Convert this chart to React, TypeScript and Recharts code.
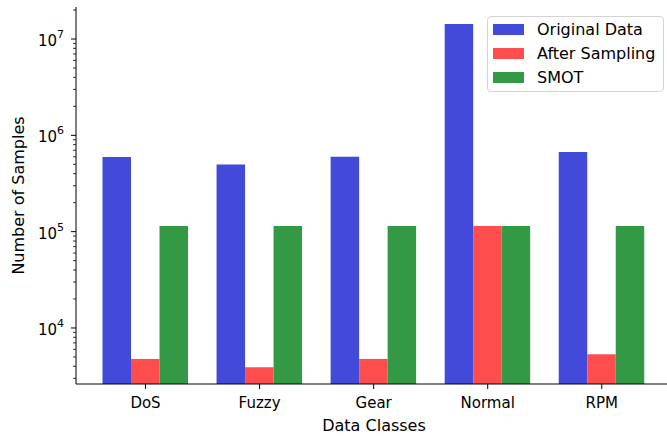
import { BarChart, Bar, XAxis, YAxis, Legend } from 'recharts';

const categories = ['DoS', 'Fuzzy', 'Gear', 'Normal', 'RPM'];
const originalData = [597000, 497000, 600000, 14300000, 673000];
const afterSampling = [4770, 3910, 4770, 114600, 5330];
const smot = [114600, 114600, 114600, 114600, 114600];

const yMajorTicks = [1e4, 1e5, 1e6, 1e7];
const yMinorTicks = [
  3e3, 4e3, 5e3, 6e3, 7e3, 8e3, 9e3,
  2e4, 3e4, 4e4, 5e4, 6e4, 7e4, 8e4, 9e4,
  2e5, 3e5, 4e5, 5e5, 6e5, 7e5, 8e5, 9e5,
  2e6, 3e6, 4e6, 5e6, 6e6, 7e6, 8e6, 9e6,
  2e7,
];

const seriesNames = ['Original Data', 'After Sampling', 'SMOT'];
const colors = ['#4349d9', '#ff4c4c', '#339944'];

const data = categories.map((c, i) => ({
  name: c,
  original: originalData[i],
  after: afterSampling[i],
  smot: smot[i],
}));

const FONT = 'DejaVu Sans, sans-serif';

function YTick(props: any) {
  const { x, y, payload } = props;
  const v = payload.value;
  const exp = Math.round(Math.log10(v));
  const major = Math.abs(Math.log10(v) - exp) < 1e-9;
  if (!major) {
    return <line x1={x - 3} x2={x} y1={y} y2={y} stroke="#000" strokeWidth={0.8} />;
  }
  return (
    <g>
      <line x1={x - 5} x2={x} y1={y} y2={y} stroke="#000" strokeWidth={1} />
      <text x={x - 12} y={y + 7} textAnchor="end" fontFamily={FONT} fontSize={15} fill="#000">
        <tspan>10</tspan>
        <tspan dy={-8} fontSize={11}>{exp}</tspan>
      </text>
    </g>
  );
}

function XTick(props: any) {
  const { x, y, payload } = props;
  return (
    <g>
      <line x1={x} x2={x} y1={y} y2={y + 5} stroke="#000" strokeWidth={1} />
      <text x={x} y={y + 23.5} textAnchor="middle" fontFamily={FONT} fontSize={15} fill="#000">
        {payload.value}
      </text>
    </g>
  );
}

function LegendBox() {
  return (
    <div
      style={{
        boxSizing: 'border-box',
        width: 177,
        height: 76,
        border: '1px solid #d4d4d4',
        borderRadius: 4,
        background: 'rgba(255,255,255,0.8)',
        fontFamily: FONT,
        fontSize: 16,
        color: '#000',
      }}
    >
      {seriesNames.map((n, i) => (
        <div key={n} style={{ display: 'flex', alignItems: 'center', height: 24 }}>
          <div style={{ width: 31, height: 11, background: colors[i], marginLeft: 5, marginRight: 13 }} />
          <span style={{ whiteSpace: 'nowrap' }}>{n}</span>
        </div>
      ))}
    </div>
  );
}

export default function App() {
  return (
    <div style={{ position: 'absolute', left: 0, top: 0, width: 667, height: 437, overflow: 'hidden', background: 'white' }}>
      <BarChart
        width={680}
        height={437}
        data={data}
        margin={{ top: 7, right: 8, bottom: 0, left: 0 }}
        barGap={0}
        barSize={28.5}
      >
        <XAxis
          xAxisId="top"
          orientation="top"
          dataKey="name"
          height={0}
          tick={false}
          tickLine={false}
          axisLine={{ stroke: '#000', strokeWidth: 1 }}
          padding={{ left: 12.5, right: 13.2 }}
        />
        <XAxis
          dataKey="name"
          height={53}
          interval={0}
          tickSize={0}
          tickMargin={0}
          tickLine={false}
          tick={<XTick />}
          axisLine={{ stroke: '#000', strokeWidth: 1 }}
          padding={{ left: 12.5, right: 13.2 }}
          label={({ viewBox }: any) => (
            <text
              x={viewBox.x + viewBox.width / 2}
              y={viewBox.y + 46.5}
              textAnchor="middle"
              fontFamily={FONT}
              fontSize={16}
              fill="#000"
            >
              Data Classes
            </text>
          )}
        />
        <YAxis
          width={76}
          scale="log"
          domain={[2620, 21500000]}
          allowDataOverflow
          ticks={[...yMinorTicks, ...yMajorTicks].sort((a, b) => a - b)}
          interval={0}
          tickSize={0}
          tickMargin={0}
          tickLine={false}
          tick={<YTick />}
          axisLine={{ stroke: '#000', strokeWidth: 1 }}
          label={({ viewBox }: any) => (
            <text
              transform={`translate(24, ${viewBox.y + viewBox.height / 2}) rotate(-90)`}
              textAnchor="middle"
              fontFamily={FONT}
              fontSize={16}
              fill="#000"
            >
              Number of Samples
            </text>
          )}
        />
        <Legend
          layout="vertical"
          align="center"
          verticalAlign="middle"
          wrapperStyle={{ top: 16, left: 487, width: 177 }}
          content={() => <LegendBox />}
        />
        <Bar dataKey="original" name={seriesNames[0]} fill={colors[0]} isAnimationActive={false} />
        <Bar dataKey="after" name={seriesNames[1]} fill={colors[1]} isAnimationActive={false} />
        <Bar dataKey="smot" name={seriesNames[2]} fill={colors[2]} isAnimationActive={false} />
      </BarChart>
    </div>
  );
}
